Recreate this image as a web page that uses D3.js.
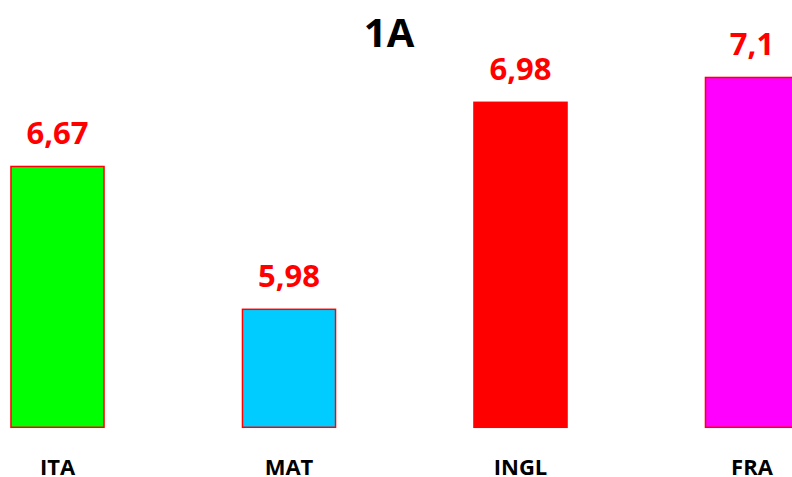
<!DOCTYPE html>
<html>
<head>
<meta charset="utf-8">
<script src="https://cdn.jsdelivr.net/npm/d3@7"></script>
<style>
  html, body { margin: 0; padding: 0; background: #fff; }
  svg { display: block; }
  text { font-family: "Open Sans", "Noto Sans", sans-serif; font-weight: bold; }
</style>
</head>
<body>
<script>
const title = "1A";
const categories = ["ITA", "MAT", "INGL", "FRA"];
const values = [6.67, 5.98, 6.98, 7.1];
const valueLabels = ["6,67", "5,98", "6,98", "7,1"];
const colors = ["#00FF00", "#00CCFF", "#FF0000", "#FF00FF"];

const W = 792, H = 477;
const svg = d3.select("body").append("svg").attr("width", W).attr("height", H);

const x = d3.scaleBand()
  .domain(categories)
  .range([-58.25, 867.75])
  .paddingInner(0.598)
  .paddingOuter(0.299);

const y = d3.scaleLinear().domain([5.41, 7.41]).range([427.3, 13.3]);

const g = svg.append("g");

g.selectAll("rect.bar")
  .data(categories)
  .join("rect")
  .attr("class", "bar")
  .attr("x", d => x(d))
  .attr("width", x.bandwidth())
  .attr("y", (d, i) => y(values[i]))
  .attr("height", (d, i) => y(5.41) - y(values[i]))
  .attr("fill", (d, i) => colors[i])
  .attr("stroke", "#FF0000")
  .attr("stroke-width", 1.5);

g.selectAll("text.val")
  .data(categories)
  .join("text")
  .attr("class", "val")
  .attr("x", d => x(d) + x.bandwidth() / 2)
  .attr("y", (d, i) => y(values[i]) - 22)
  .attr("text-anchor", "middle")
  .attr("fill", "#FF0000")
  .style("font-size", "31px")
  .text((d, i) => valueLabels[i]);

g.selectAll("text.cat")
  .data(categories)
  .join("text")
  .attr("class", "cat")
  .attr("x", d => x(d) + x.bandwidth() / 2)
  .attr("y", 475)
  .attr("text-anchor", "middle")
  .attr("fill", "#000")
  .style("font-size", "22px")
  .text(d => d);

svg.append("text")
  .attr("x", 389)
  .attr("y", 47)
  .attr("text-anchor", "middle")
  .attr("fill", "#000")
  .style("font-size", "40px")
  .text(title);
</script>
</body>
</html>
